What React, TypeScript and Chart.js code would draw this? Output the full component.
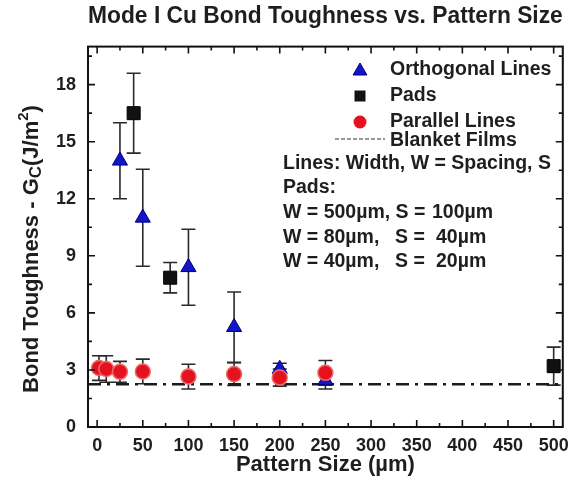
import React, { useEffect, useRef } from "react";
import { Chart, registerables } from "chart.js";

Chart.register(...registerables);

// ---- data ----
const orthoX = [25, 50, 100, 150, 200, 250];
const orthoY = [14.0, 11.0, 8.4, 5.25, 3.05, 2.45];
const orthoErr = [2.0, 2.55, 2.0, 1.85, 0.3, 0.45];

const padsX = [40, 80, 500];
const padsY = [16.5, 7.85, 3.2];
const padsErr = [2.1, 0.8, 1.0];

const parX = [2, 10, 25, 50, 100, 150, 200, 250];
const parY = [3.1, 3.05, 2.9, 2.92, 2.65, 2.78, 2.6, 2.85];
const parErr = [0.65, 0.7, 0.55, 0.65, 0.65, 0.6, 0.45, 0.65];

const blanketX = [-10, 510];
const blanketY = [2.25, 2.25];

const xTicks = [0, 50, 100, 150, 200, 250, 300, 350, 400, 450, 500];
const xMinorTicks = [25, 75, 125, 175, 225, 275, 325, 375, 425, 475];
const yTicks = [0, 3, 6, 9, 12, 15, 18];
const yMinorTicks = [1.5, 4.5, 7.5, 10.5, 13.5, 16.5, 19.5];

const legendSeries = ["Orthogonal Lines", "Pads", "Parallel Lines", "Blanket Films"];
const noteLines = ["Lines: Width, W = Spacing, S", "Pads:"];
const noteRows = [
  ["W = 500µm,", "S =", "100µm"],
  ["W = 80µm,", "S =", "40µm"],
  ["W = 40µm,", "S =", "20µm"],
];

const TEXT = "#1e1e1e";
const BLUE = "#1414c8";
const BLUE_EDGE = "#000078";
const RED = "#e3121e";
const RED_EDGE = "#f06a6a";
const BLACK = "#111111";
const FAMILY = '"Liberation Sans", Arial, sans-serif';

const f = (size: number) => `bold ${size}px ${FAMILY}`;

function toPts(xs: number[], ys: number[]) {
  return xs.map((x, i) => ({ x, y: ys[i] }));
}

function drawTri(ctx: CanvasRenderingContext2D, x: number, y: number, r: number) {
  ctx.beginPath();
  for (let k = 0; k < 3; k++) {
    const a = -Math.PI / 2 + (k * 2 * Math.PI) / 3;
    const px = x + Math.cos(a) * r;
    const py = y + Math.sin(a) * r;
    if (k === 0) ctx.moveTo(px, py);
    else ctx.lineTo(px, py);
  }
  ctx.closePath();
  ctx.fillStyle = BLUE;
  ctx.fill();
  ctx.strokeStyle = BLUE_EDGE;
  ctx.lineWidth = 1;
  ctx.stroke();
}

const errorBarPlugin = {
  id: "errorBars",
  beforeDatasetsDraw(chart: any) {
    const { ctx, scales } = chart;
    const xs = scales.x;
    const ys = scales.y;
    const series = [
      [orthoX, orthoY, orthoErr],
      [padsX, padsY, padsErr],
      [parX, parY, parErr],
    ];
    ctx.save();
    ctx.strokeStyle = "#2a2a2a";
    ctx.lineWidth = 1.6;
    series.forEach(([sx, sy, se]) => {
      sx.forEach((xv: number, i: number) => {
        const px = xs.getPixelForValue(xv);
        const pt = ys.getPixelForValue(sy[i] + se[i]);
        const pb = ys.getPixelForValue(sy[i] - se[i]);
        ctx.beginPath();
        ctx.moveTo(px, pt);
        ctx.lineTo(px, pb);
        ctx.moveTo(px - 7, pt);
        ctx.lineTo(px + 7, pt);
        ctx.moveTo(px - 7, pb);
        ctx.lineTo(px + 7, pb);
        ctx.stroke();
      });
    });
    ctx.restore();
  },
};

const framePlugin = {
  id: "frame",
  afterDraw(chart: any) {
    const { ctx, chartArea, scales } = chart;
    const { left, right, top, bottom } = chartArea;
    const xs = scales.x;
    const ys = scales.y;
    ctx.save();
    // box
    ctx.strokeStyle = "#111";
    ctx.lineWidth = 2;
    ctx.strokeRect(left, top, right - left, bottom - top);
    // ticks
    ctx.lineWidth = 1.6;
    ctx.beginPath();
    const tickX = (v: number, len: number) => {
      const p = xs.getPixelForValue(v);
      ctx.moveTo(p, bottom);
      ctx.lineTo(p, bottom - len);
      ctx.moveTo(p, top);
      ctx.lineTo(p, top + len);
    };
    const tickY = (v: number, len: number) => {
      const p = ys.getPixelForValue(v);
      ctx.moveTo(left, p);
      ctx.lineTo(left + len, p);
      ctx.moveTo(right, p);
      ctx.lineTo(right - len, p);
    };
    xTicks.forEach((v) => tickX(v, 7));
    xMinorTicks.forEach((v) => tickX(v, 4));
    yTicks.forEach((v) => v > 0 && tickY(v, 7));
    yMinorTicks.forEach((v) => tickY(v, 4));
    ctx.stroke();

    // y title with sub/superscript
    ctx.fillStyle = TEXT;
    ctx.textBaseline = "middle";
    ctx.textAlign = "left";
    const pieces = [
      { t: "Bond Toughness - G", s: 22, dy: 0 },
      { t: "C", s: 17, dy: 4 },
      { t: "(J/m", s: 22, dy: 0 },
      { t: "2", s: 15, dy: -8 },
      { t: ")", s: 22, dy: 0 },
    ];
    let total = 0;
    pieces.forEach((p) => {
      ctx.font = f(p.s);
      total += ctx.measureText(p.t).width;
    });
    ctx.translate(32, 249);
    ctx.rotate(-Math.PI / 2);
    let cx = -total / 2;
    pieces.forEach((p) => {
      ctx.font = f(p.s);
      ctx.fillText(p.t, cx, p.dy);
      cx += ctx.measureText(p.t).width;
    });
    ctx.restore();

    // legend
    ctx.save();
    ctx.fillStyle = TEXT;
    ctx.textBaseline = "middle";
    ctx.textAlign = "left";
    ctx.font = f(19.5);
    const lx = 390;
    const ly = [70, 96, 122, 141];
    drawTri(ctx, 360, 71, 8);
    ctx.fillStyle = BLACK;
    ctx.fillRect(354.5, 90.5, 11, 11);
    ctx.beginPath();
    ctx.arc(360, 122, 6.5, 0, Math.PI * 2);
    ctx.fillStyle = RED;
    ctx.fill();
    ctx.strokeStyle = "#333";
    ctx.lineWidth = 1.2;
    ctx.setLineDash([4, 2]);
    ctx.beginPath();
    ctx.moveTo(335, 139);
    ctx.lineTo(385, 139);
    ctx.stroke();
    ctx.setLineDash([]);
    ctx.fillStyle = TEXT;
    legendSeries.forEach((t, i) => ctx.fillText(t, lx, ly[i]));
    ctx.fillText(noteLines[0], 283, 164);
    ctx.fillText(noteLines[1], 283, 188);
    const rowY = [213, 238, 262];
    const sp = ctx.measureText(" ").width;
    noteRows.forEach((r, i) => {
      ctx.fillText(r[0], 283, rowY[i]);
      const endW = 283 + ctx.measureText(r[0]).width + sp;
      const sx = Math.max(endW, i === 0 ? 388 : 395);
      ctx.fillText(r[1], sx, rowY[i]);
      const endS = sx + ctx.measureText(r[1]).width + sp;
      ctx.fillText(r[2], Math.max(endS, i === 0 ? 432 : 436), rowY[i]);
    });
    ctx.restore();
  },
};

export default function App() {
  const ref = useRef<HTMLCanvasElement | null>(null);
  useEffect(() => {
    if (!ref.current) return;
    const chart = new Chart(ref.current, {
      type: "scatter",
      data: {
        datasets: [
          {
            label: "Parallel Lines",
            data: toPts(parX, parY),
            pointStyle: "circle",
            pointRadius: 7.5,
            backgroundColor: RED,
            borderColor: RED_EDGE,
            borderWidth: 1.5,
          },
          {
            label: "Orthogonal Lines",
            data: toPts(orthoX, orthoY),
            pointStyle: "triangle",
            pointRadius: 8.7,
            backgroundColor: BLUE,
            borderColor: BLUE_EDGE,
            borderWidth: 1,
          },
          {
            label: "Pads",
            data: toPts(padsX, padsY),
            pointStyle: "rect",
            pointRadius: 9.2,
            backgroundColor: BLACK,
            borderColor: "#000",
            borderWidth: 1,
          },
          {
            label: "Blanket Films",
            type: "line",
            data: toPts(blanketX, blanketY),
            showLine: true,
            pointRadius: 0,
            borderColor: "#1a1a1a",
            borderWidth: 2.5,
            borderDash: [13, 6, 3, 6],
            fill: false,
          } as any,
        ],
      },
      options: {
        animation: false,
        responsive: false,
        events: [],
        layout: { padding: { left: 0, right: 8, top: 0, bottom: 0 } },
        plugins: {
          legend: { display: false },
          tooltip: { enabled: false },
          title: {
            display: true,
            text: "Mode I Cu Bond Toughness vs. Pattern Size",
            fullSize: false,
            color: TEXT,
            font: { family: FAMILY, size: 23, weight: "bold" },
            padding: { top: 3, bottom: 16 },
          },
        },
        scales: {
          x: {
            type: "linear",
            min: -10,
            max: 510,
            afterBuildTicks: (s: any) => {
              s.ticks = xTicks.map((v) => ({ value: v }));
            },
            afterFit: (s: any) => {
              s.height = 53;
              s.paddingLeft = 0;
              s.paddingRight = 0;
            },
            ticks: {
              autoSkip: false,
              maxRotation: 0,
              padding: 8,
              color: TEXT,
              font: { family: FAMILY, size: 18, weight: "bold" },
            },
            grid: { display: false, drawTicks: false },
            border: { display: false },
            title: {
              display: true,
              text: "Pattern Size (µm)",
              color: TEXT,
              font: { family: FAMILY, size: 22, weight: "bold" },
              padding: { top: 0, bottom: 2 },
            },
          },
          y: {
            type: "linear",
            min: 0,
            max: 20,
            afterBuildTicks: (s: any) => {
              s.ticks = yTicks.map((v) => ({ value: v }));
            },
            afterFit: (s: any) => {
              s.width = 88;
              s.paddingTop = 0;
              s.paddingBottom = 0;
            },
            ticks: {
              autoSkip: false,
              padding: 12,
              color: TEXT,
              font: { family: FAMILY, size: 18, weight: "bold" },
            },
            grid: { display: false, drawTicks: false },
            border: { display: false },
          },
        },
      } as any,
      plugins: [errorBarPlugin, framePlugin],
    });
    return () => chart.destroy();
  }, []);

  return (
    <div style={{ position: "absolute", left: 0, top: 0, width: 573, height: 480, background: "#fff" }}>
      <canvas ref={ref} width={573} height={480} style={{ width: 573, height: 480 }} />
    </div>
  );
}
